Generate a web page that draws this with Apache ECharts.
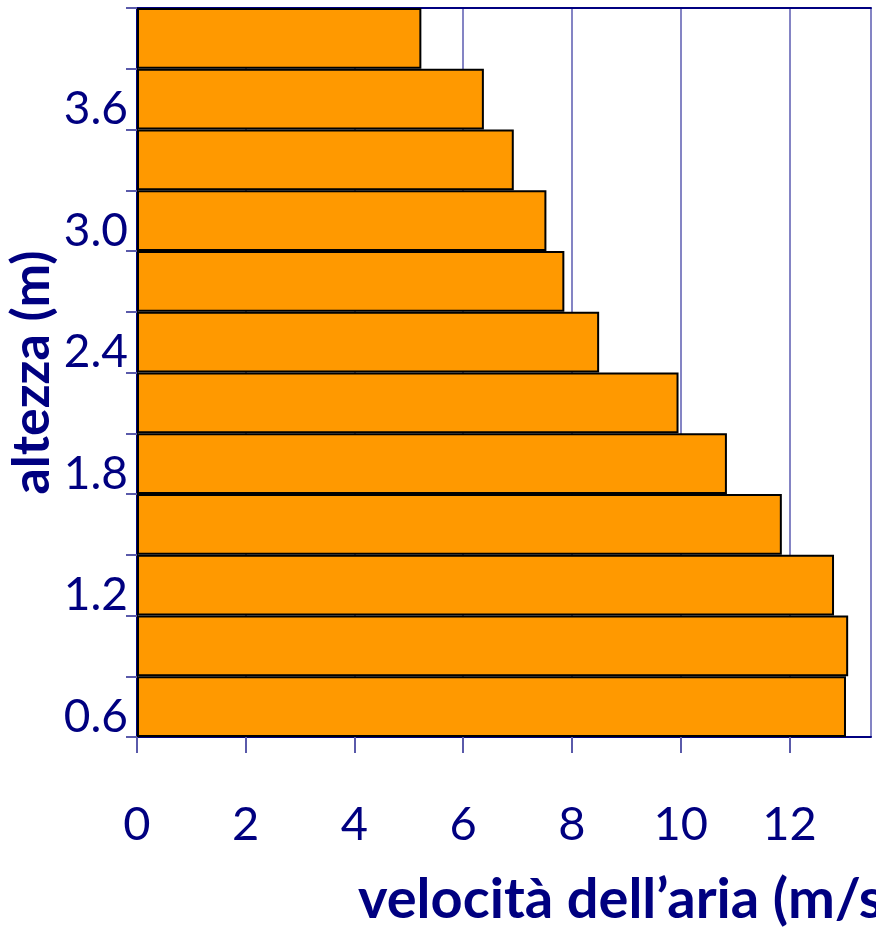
<!DOCTYPE html>
<html>
<head>
<meta charset="utf-8">
<script src="https://cdn.jsdelivr.net/npm/echarts@6/dist/echarts.min.js"></script>
<style>html,body{margin:0;padding:0;background:#fff}#c{width:876px;height:928px}</style>
</head>
<body>
<div id="c"></div>
<script>
// bar lower bounds (m), bottom to top
const heightBands = ['0.6','0.9','1.2','1.5','1.8','2.1','2.4','2.7','3.0','3.3','3.6','3.9'];
// air speed (m/s) per band
const airSpeed = [13.04, 13.08, 12.82, 11.86, 10.85, 9.96, 8.5, 7.86, 7.53, 6.93, 6.38, 5.23];
const yTickLabels = ['0.6','1.2','1.8','2.4','3.0','3.6'];
const xTickLabels = ['0','2','4','6','8','10','12'];
const xTitle = 'velocità dell’aria (m/s)';
const yTitle = 'altezza (m)';

const navy = '#000080';
const gridCol = '#8484c4';
const font = 'Lato';

const chart = echarts.init(document.getElementById('c'));
chart.setOption({
  animation: false,
  grid: {left: 137, right: 5, top: 8, bottom: 191, containLabel: false, outerBoundsMode: 'none'},
  xAxis: [{
    type: 'value', min: 0, max: 13.5, interval: 2, position: 'bottom',
    axisLine: {show: true, lineStyle: {color: navy, width: 2}},
    axisTick: {show: true, length: 16, lineStyle: {color: '#5a5aaa', width: 2}},
    splitLine: {show: true, lineStyle: {color: gridCol, width: 2}},
    axisLabel: {
      margin: 64, fontSize: 47, color: navy, fontFamily: font, showMaxLabel: false,
      formatter: v => { const s = String(Math.round(v)); return (Math.abs(v - Math.round(v)) < 1e-6 && xTickLabels.includes(s)) ? s : ''; }
    }
  }, {
    type: 'value', min: 0, max: 13.5, position: 'top',
    axisLine: {show: true, lineStyle: {color: navy, width: 2}},
    axisTick: {show: false}, axisLabel: {show: false}, splitLine: {show: false}
  }],
  yAxis: [{
    type: 'category', data: heightBands, boundaryGap: true, show: false
  }, {
    type: 'value', min: 0.6, max: 4.2, interval: 0.3, position: 'left',
    name: yTitle, nameLocation: 'middle', nameGap: 79, nameRotate: 90, nameMoveOverlap: false,
    nameTextStyle: {fontSize: 52, fontWeight: 'bold', color: navy, fontFamily: font},
    axisLine: {show: true, lineStyle: {color: navy, width: 2}},
    axisTick: {show: true, inside: false, length: 11, lineStyle: {color: '#5a5aaa', width: 2}},
    splitLine: {show: false},
    axisLabel: {
      margin: 9, fontSize: 46, color: navy, fontFamily: font, verticalAlign: 'bottom', lineHeight: 40,
      formatter: v => { const s = (Math.round(v * 10) / 10).toFixed(1); return yTickLabels.includes(s) ? s : ''; }
    }
  }],
  graphic: [{
    type: 'text', left: 358, top: 872,
    style: {text: xTitle, fontSize: 56, fontWeight: 'bold', fill: navy, fontFamily: font}
  }],
  series: [{
    type: 'bar', xAxisIndex: 0, yAxisIndex: 0, data: airSpeed,
    barCategoryGap: 0, barWidth: '100%',
    itemStyle: {color: '#ff9900', borderColor: '#000', borderWidth: 2}
  }]
});
</script>
</body>
</html>
